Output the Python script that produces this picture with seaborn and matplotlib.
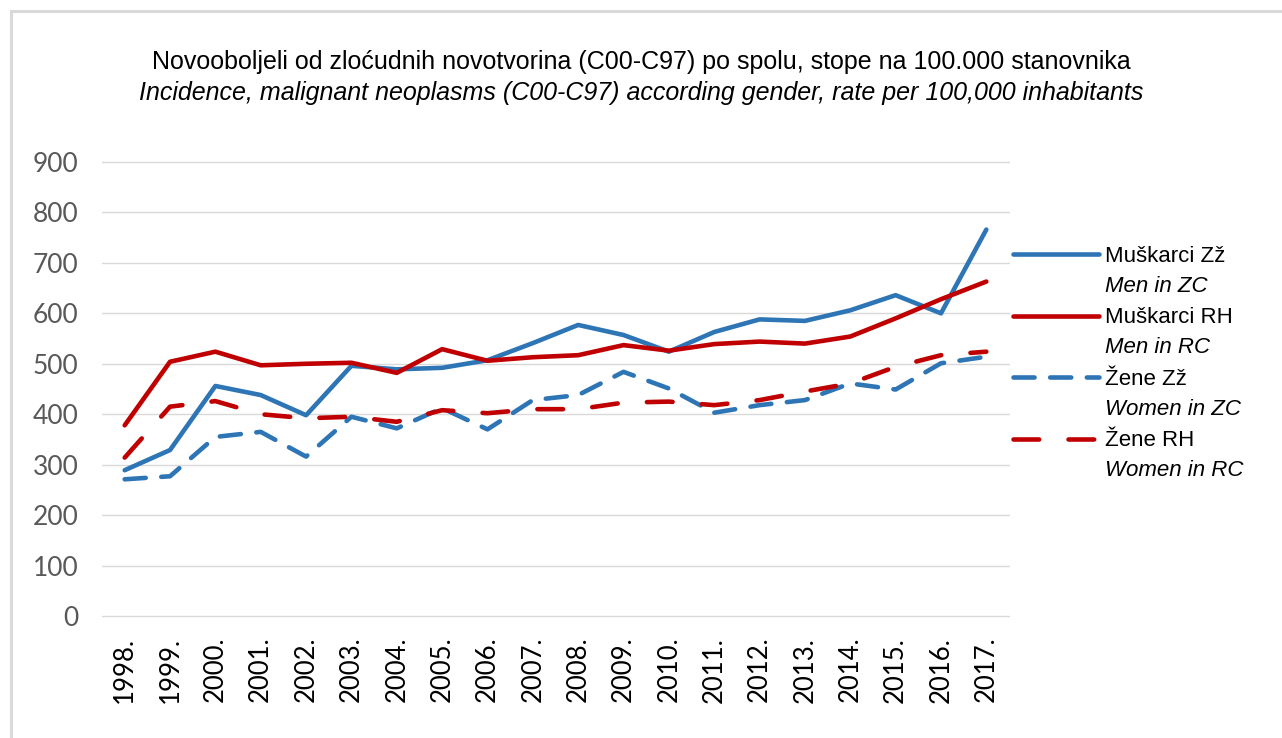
import pandas as pd
import matplotlib.pyplot as plt
import seaborn as sns
from matplotlib.patches import Rectangle

# Podaci (očitano s grafikona)
godine = ['1998.', '1999.', '2000.', '2001.', '2002.', '2003.', '2004.', '2005.', '2006.', '2007.',
          '2008.', '2009.', '2010.', '2011.', '2012.', '2013.', '2014.', '2015.', '2016.', '2017.']
muskarci_zz = [289, 329, 456, 438, 398, 496, 489, 492, 507, 541, 577, 557, 524, 563, 588, 585, 606, 636, 600, 766]
muskarci_rh = [378, 504, 524, 497, 500, 502, 482, 529, 506, 513, 517, 537, 526, 539, 544, 540, 554, 590, 628, 663]
zene_zz = [271, 277, 355, 365, 316, 395, 372, 412, 370, 428, 438, 484, 451, 403, 418, 428, 461, 449, 501, 514]
zene_rh = [314, 415, 426, 400, 392, 395, 385, 408, 402, 410, 410, 423, 425, 418, 428, 445, 461, 494, 517, 524]

serije = ['Muškarci Zž', 'Muškarci RH', 'Žene Zž', 'Žene RH']
engleski = ['Men in ZC', 'Men in RC', 'Women in ZC', 'Women in RC']

df = pd.DataFrame({
    'godina': godine * 4,
    'stopa': muskarci_zz + muskarci_rh + zene_zz + zene_rh,
    'serija': [s for s in serije for _ in godine],
})

sns.set_style('white')
plt.rcParams['font.family'] = ['Liberation Sans', 'DejaVu Sans']
plt.rcParams['text.color'] = 'black'
plt.rcParams['lines.dash_capstyle'] = 'round'
plt.rcParams['lines.solid_capstyle'] = 'round'

boje = {'Muškarci Zž': '#2e75b6', 'Muškarci RH': '#c00000', 'Žene Zž': '#2e75b6', 'Žene RH': '#c00000'}
crte = {'Muškarci Zž': '', 'Muškarci RH': '', 'Žene Zž': (4.6, 3.4), 'Žene RH': (5.6, 6.4)}

fig = plt.figure(figsize=(12.82, 7.38), dpi=100)
ax = fig.add_axes([102 / 1282, 1 - 616 / 738, 907 / 1282, 454 / 738])

sns.lineplot(data=df, x='godina', y='stopa', hue='serija', style='serija',
             palette=boje, dashes=crte, linewidth=3.3, sort=False, ax=ax)

ax.set_xlim(-0.5, len(godine) - 0.5)
ax.set_ylim(0, 900)
ax.set_yticks(range(0, 901, 100))
ax.set_xlabel('')
ax.set_ylabel('')
ax.grid(axis='y', color='#d9d9d9', linewidth=1)
for g in ax.get_ygridlines():
    g.set_clip_on(False)
ax.set_axisbelow(True)
for s in ax.spines.values():
    s.set_visible(False)
ax.tick_params(axis='y', length=0, pad=17, labelsize=19, labelcolor='#595959')
ax.tick_params(axis='x', length=0, pad=15, labelsize=18.5, labelcolor='#000000', rotation=90)
for t in ax.get_xticklabels() + ax.get_yticklabels():
    t.set_fontfamily(['Lato', 'DejaVu Sans'])

# legenda
h, l = ax.get_legend_handles_labels()
leg = ax.legend(h, l, loc='upper left', bbox_to_anchor=(1013 / 1282, 1 - 246 / 738),
                bbox_transform=fig.transFigure, frameon=False, fontsize=16,
                handlelength=3.85, handletextpad=0.3, labelspacing=1.82,
                borderpad=0, borderaxespad=0)
for t in leg.get_texts():
    t.set_color('black')

# naslov
fig.text(0.5, 1 - 62 / 738, 'Novooboljeli od zloćudnih novotvorina (C00-C97) po spolu, stope na 100.000 stanovnika',
         ha='center', va='center', fontsize=18, color='black')
fig.text(0.5, 1 - 93 / 738, 'Incidence, malignant neoplasms (C00-C97) according gender, rate per 100,000 inhabitants',
         ha='center', va='center', fontsize=18, style='italic', color='black')

# okvir
fig.patches.append(Rectangle((11 / 1282, -0.1), 1.2, 1.1 - 11 / 738, fill=False,
                             edgecolor='#d9d9d9', linewidth=2.2, transform=fig.transFigure))

# drugi red legende (kurziv) ispod svakog naziva
fig.canvas.draw()
for t, en in zip(leg.get_texts(), engleski):
    bb = t.get_window_extent()
    yc = (bb.y0 + bb.y1) / 2 - 30
    fig.text(bb.x0 / 1282, yc / 738, en, ha='left', va='center', fontsize=16, style='italic', color='black')

plt.savefig('out.png', dpi=100)
